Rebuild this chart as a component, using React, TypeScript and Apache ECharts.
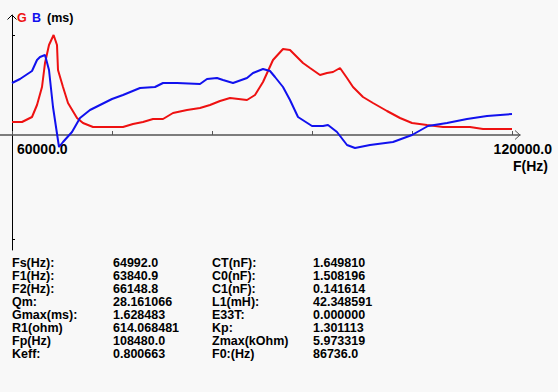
import React, { useEffect, useRef } from "react";
import * as echarts from "echarts";

// X axis: frequency (Hz)
const xTickValues = [60000, 72000, 84000, 96000, 108000, 120000];
const xEndLabels = ["60000.0", "120000.0"];
const xAxisName = "F(Hz)";
const yTickValues = [1, -1.04];

// G curve (red), normalised to Gmax
const gFreq = [
  60000, 61200, 62400, 63000, 63600, 63960, 64440, 64992, 65400, 65520, 66120, 66720, 67800,
  68520, 69720, 73320, 74520, 75720, 76920, 78120, 79320, 81000, 82560, 83760, 84960, 86160,
  88200, 89160, 90120, 91320, 92520, 93360, 94920, 95760, 96960, 97800, 98520, 99360, 100200,
  100920, 102120, 103320, 105000, 106560, 108000, 109800, 111720, 114960, 116520, 120000,
];
const gValues = [
  0.13, 0.13, 0.18, 0.3, 0.48, 0.72, 0.9, 1.0, 0.9, 0.65, 0.48, 0.32, 0.17,
  0.12, 0.08, 0.08, 0.11, 0.13, 0.16, 0.16, 0.22, 0.25, 0.27, 0.3, 0.34, 0.37,
  0.35, 0.4, 0.53, 0.75, 0.86, 0.85, 0.72, 0.67, 0.6, 0.62, 0.63, 0.67, 0.57,
  0.48, 0.38, 0.32, 0.24, 0.17, 0.12, 0.1, 0.08, 0.08, 0.06, 0.06,
];

// B curve (blue)
const bFreq = [
  60000, 60960, 62400, 63000, 63360, 63960, 64440, 64920, 65640, 66120, 67200, 68160, 69360,
  70560, 72000, 73320, 75360, 77160, 78120, 79800, 82560, 83400, 84600, 85320, 86520, 88200,
  88920, 90120, 90960, 91560, 92520, 93360, 94320, 96000, 97320, 97920, 99000, 100200, 101160,
  102960, 105720, 108000, 109920, 112200, 114600, 117000, 120000,
];
const bValues = [
  0.52, 0.56, 0.64, 0.75, 0.78, 0.8, 0.65, 0.28, -0.12, -0.07, 0.03, 0.17, 0.25,
  0.3, 0.36, 0.4, 0.47, 0.48, 0.52, 0.52, 0.51, 0.56, 0.57, 0.55, 0.52, 0.57,
  0.62, 0.66, 0.64, 0.58, 0.48, 0.35, 0.18, 0.09, 0.09, 0.1, 0.03, -0.1, -0.13,
  -0.1, -0.07, 0.0, 0.09, 0.12, 0.16, 0.19, 0.21,
];

// Result table
const leftLabels = ["Fs(Hz):", "F1(Hz):", "F2(Hz):", "Qm:", "Gmax(ms):", "R1(ohm)", "Fp(Hz)", "Keff:"];
const leftValues = ["64992.0", "63840.9", "66148.8", "28.161066", "1.628483", "614.068481", "108480.0", "0.800663"];
const rightLabels = ["CT(nF):", "C0(nF):", "C1(nF):", "L1(mH):", "E33T:", "Kp:", "Zmax(kOhm)", "F0:(Hz)"];
const rightValues = ["1.649810", "1.508196", "0.141614", "42.348591", "0.000000", "1.301113", "5.973319", "86736.0"];

const FONT = "'Liberation Sans', Arial, sans-serif";

export default function App() {
  const ref = useRef<HTMLDivElement>(null);

  useEffect(() => {
    if (!ref.current) return;
    const chart = echarts.init(ref.current, null, { renderer: "svg" });

    const txt = (text: string, x: number, y: number, size: number, fill = "#000", align = "left") => ({
      type: "text",
      x,
      y,
      style: {
        text,
        fill,
        font: `bold ${size}px ${FONT}`,
        lineHeight: 12,
        textAlign: align,
        textVerticalAlign: "middle",
      },
      silent: true,
    });

    const graphics: any[] = [
      // legend
      txt("G", 17, 18, 12.5, "#ee1111"),
      txt("B", 32, 18, 12.5, "#1111ee"),
      txt("(ms)", 47, 18, 12.5, "#000"),
      // axis labels
      txt(xEndLabels[0], 17, 148.5, 14),
      txt(xEndLabels[1], 552, 148.5, 14, "#000", "right"),
      txt(xAxisName, 513, 166, 14),
      // arrow heads
      {
        type: "polyline",
        shape: { points: [[515, 130.5], [520, 135], [515, 139.5]] },
        style: { stroke: "#555", lineWidth: 1, fill: "none" },
        silent: true,
      },
      {
        type: "polyline",
        shape: { points: [[7.5, 19.5], [12, 15], [16.5, 19.5]] },
        style: { stroke: "#000", lineWidth: 1, fill: "none" },
        silent: true,
      },
    ];

    leftLabels.forEach((t, i) => {
      const y = 262.5 + i * 13;
      graphics.push(txt(t, 12, y, 12.5));
      graphics.push(txt(leftValues[i], 113, y, 12.5));
      graphics.push(txt(rightLabels[i], 212, y, 12.5));
      graphics.push(txt(rightValues[i], 313, y, 12.5));
    });

    chart.setOption({
      animation: false,
      backgroundColor: "#f8f8f8",
      grid: { left: 0, right: 38, top: 15, bottom: 142, containLabel: false },
      xAxis: {
        type: "value",
        min: 58560,
        max: 120960,
        splitLine: { show: false },
        axisLine: { onZero: true, lineStyle: { color: "#555", width: 1.5 } },
        axisTick: {
          show: true,
          inside: true,
          length: 4,
          customValues: xTickValues,
          lineStyle: { color: "#555", width: 1 },
        },
        axisLabel: { show: false },
      },
      yAxis: {
        type: "value",
        min: -1.15,
        max: 1.2,
        offset: -12,
        splitLine: { show: false },
        axisLine: { show: true, onZero: false, lineStyle: { color: "#000", width: 1 } },
        axisTick: {
          show: true,
          inside: true,
          length: 3,
          customValues: yTickValues,
          lineStyle: { color: "#000", width: 1 },
        },
        axisLabel: { show: false },
      },
      series: [
        {
          type: "line",
          name: "G",
          data: gFreq.map((f, i) => [f, gValues[i]]),
          showSymbol: false,
          lineStyle: { color: "#ee1111", width: 2 },
          itemStyle: { color: "#ee1111" },
          z: 3,
        },
        {
          type: "line",
          name: "B",
          data: bFreq.map((f, i) => [f, bValues[i]]),
          showSymbol: false,
          lineStyle: { color: "#1111ee", width: 2 },
          itemStyle: { color: "#1111ee" },
          z: 4,
        },
      ],
      graphic: graphics,
    });

    return () => chart.dispose();
  }, []);

  return <div ref={ref} style={{ width: 558, height: 392, position: "absolute", left: 0, top: 0 }} />;
}
